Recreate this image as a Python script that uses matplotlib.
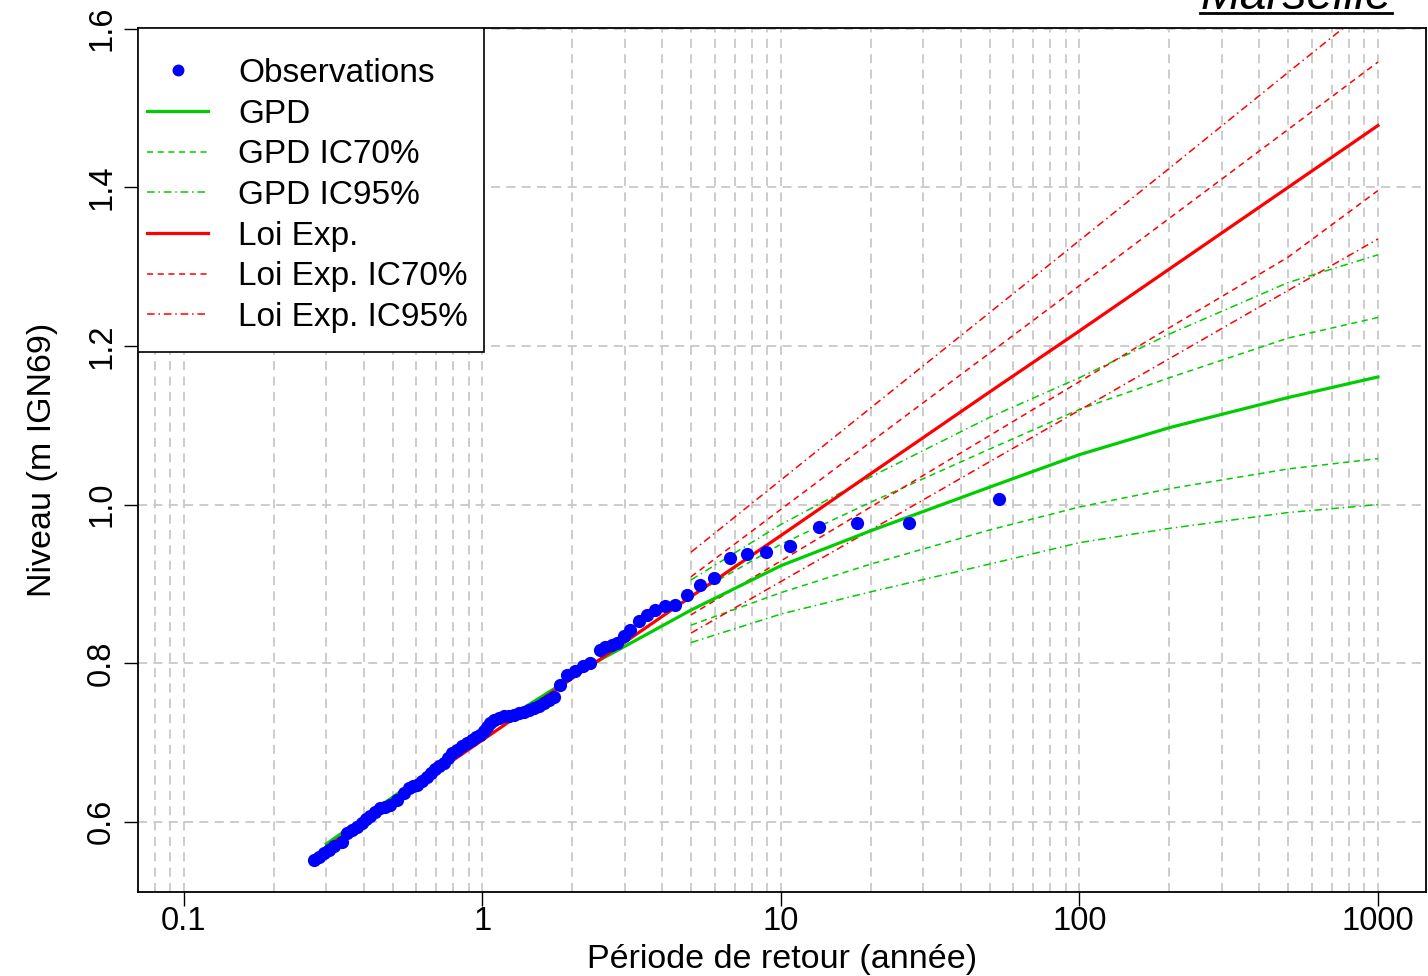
import numpy as np
import matplotlib.pyplot as plt
from matplotlib.patches import Rectangle
from matplotlib.ticker import LogLocator, FixedLocator, NullFormatter

plt.rcParams['font.family'] = ['Liberation Sans', 'DejaVu Sans']

# observed levels vs empirical return period (years)
obs_T = [0.272, 0.283, 0.294, 0.306, 0.318, 0.339, 0.352, 0.366, 0.380, 0.395,
         0.408, 0.421, 0.437, 0.455, 0.473, 0.492, 0.518, 0.545, 0.566, 0.585,
         0.604, 0.628, 0.653, 0.674, 0.696, 0.718, 0.742, 0.766, 0.792, 0.822,
         0.855, 0.889, 0.924, 0.955, 0.985, 1.011, 1.037, 1.063, 1.091, 1.134,
         1.179, 1.225, 1.273, 1.323, 1.375, 1.430, 1.486, 1.545, 1.605, 1.668,
         1.733, 1.825, 1.92, 2.05, 2.18, 2.30, 2.48, 2.58, 2.72, 2.83, 2.97,
         3.13, 3.34, 3.56, 3.80, 4.10, 4.43, 4.85, 5.37, 5.96, 6.74, 7.70,
         8.94, 10.76, 13.39, 18.0, 26.8, 53.7]
obs_lvl = [0.552, 0.556, 0.561, 0.565, 0.569, 0.575, 0.586, 0.590, 0.594, 0.598,
           0.603, 0.607, 0.612, 0.617, 0.619, 0.621, 0.628, 0.636, 0.643, 0.645,
           0.647, 0.652, 0.657, 0.662, 0.666, 0.670, 0.674, 0.680, 0.687, 0.691,
           0.695, 0.699, 0.703, 0.707, 0.710, 0.715, 0.720, 0.725, 0.729, 0.731,
           0.733, 0.734, 0.735, 0.737, 0.739, 0.741, 0.743, 0.746, 0.750, 0.754,
           0.758, 0.773, 0.785, 0.790, 0.796, 0.800, 0.817, 0.821, 0.823, 0.825,
           0.834, 0.842, 0.853, 0.861, 0.867, 0.872, 0.874, 0.886, 0.899, 0.907,
           0.933, 0.938, 0.940, 0.948, 0.972, 0.977, 0.977, 1.007]

# fitted return levels
fit_T = [0.3, 1, 2.5, 5, 10, 20, 50, 100, 200, 500, 1000]
gpd = [0.572, 0.711, 0.805, 0.867, 0.923, 0.967, 1.022, 1.063, 1.097, 1.135, 1.161]
expo = [0.568, 0.703, 0.806, 0.884, 0.961, 1.039, 1.142, 1.219, 1.297, 1.400, 1.478]

# confidence bands, computed from T = 5 years
ic_T = [5, 10, 20, 50, 100, 200, 500, 1000]
gpd70_lo = [0.848, 0.889, 0.925, 0.968, 0.997, 1.020, 1.045, 1.058]
gpd70_hi = [0.885, 0.950, 1.003, 1.070, 1.120, 1.160, 1.210, 1.236]
gpd95_lo = [0.826, 0.862, 0.890, 0.925, 0.952, 0.970, 0.990, 1.000]
gpd95_hi = [0.905, 0.975, 1.035, 1.110, 1.160, 1.215, 1.280, 1.315]
exp70_lo = [0.861, 0.929, 0.997, 1.087, 1.155, 1.223, 1.312, 1.396]
exp70_hi = [0.909, 0.994, 1.079, 1.191, 1.276, 1.361, 1.473, 1.558]
exp95_lo = [0.838, 0.903, 0.968, 1.054, 1.119, 1.184, 1.270, 1.335]
exp95_hi = [0.940, 1.031, 1.122, 1.242, 1.333, 1.424, 1.545, 1.636]

green = '#00CD00'
red = '#FF0000'
dash70 = (0, (4, 3))
dash95 = (0, (5, 2.5, 1, 2.5))

W, H = 1428, 976
fig = plt.figure(figsize=(W / 100, H / 100), dpi=100)
ax = fig.add_axes([138 / W, 84 / H, 1288 / W, 864 / H])

ax.plot(obs_T, obs_lvl, 'o', color='#0000FF', ms=9.5, mew=0, label='Observations', zorder=5)
ax.plot(fit_T, gpd, color=green, lw=2.3, label='GPD', zorder=4)
ax.plot(ic_T, gpd70_lo, color=green, lw=1.1, ls=dash70, label='GPD IC70%')
ax.plot(ic_T, gpd70_hi, color=green, lw=1.1, ls=dash70)
ax.plot(ic_T, gpd95_lo, color=green, lw=1.1, ls=dash95, label='GPD IC95%')
ax.plot(ic_T, gpd95_hi, color=green, lw=1.1, ls=dash95)
ax.plot(fit_T, expo, color=red, lw=2.3, label='Loi Exp.', zorder=4)
ax.plot(ic_T, exp70_lo, color=red, lw=1.1, ls=dash70, label='Loi Exp. IC70%')
ax.plot(ic_T, exp70_hi, color=red, lw=1.1, ls=dash70)
ax.plot(ic_T, exp95_lo, color=red, lw=1.1, ls=dash95, label='Loi Exp. IC95%')
ax.plot(ic_T, exp95_hi, color=red, lw=1.1, ls=dash95)

ax.set_xscale('log')
ax.set_xlim(0.0702, 1449)
ax.set_ylim(0.5115, 1.601)

ax.xaxis.set_major_locator(FixedLocator([0.1, 1, 10, 100, 1000]))
ax.set_xticklabels(['0.1', '1', '10', '100', '1000'])
ax.xaxis.set_minor_locator(LogLocator(base=10, subs=np.arange(2, 10), numticks=20))
ax.xaxis.set_minor_formatter(NullFormatter())
ax.set_yticks([0.6, 0.8, 1.0, 1.2, 1.4, 1.6])
ax.set_yticklabels(['0.6', '0.8', '1.0', '1.2', '1.4', '1.6'], rotation=90, va='center')

ax.tick_params(axis='both', which='major', length=10, width=1, labelsize=23.5,
               color='black', direction='out')
ax.tick_params(axis='x', which='minor', length=0)
ax.tick_params(axis='x', which='major', pad=0)
ax.tick_params(axis='y', which='major', pad=5)

gkw = dict(color='#C8C8C8', lw=1.3, ls=(0, (5, 3.5)))
ax.grid(True, which='major', axis='both', **gkw)
ax.grid(True, which='minor', axis='x', **gkw)
ax.set_axisbelow(True)
for s in ax.spines.values():
    s.set_linewidth(1.3)

ax.set_xlabel('Période de retour (année)', fontsize=24.5, labelpad=5)
ax.set_ylabel('Niveau (m IGN69)', fontsize=24.5, labelpad=20)

# legend box drawn separately, entries placed inside it
ax.add_patch(Rectangle((0, 1 - 324 / 864), 346 / 1288, 324 / 864, transform=ax.transAxes,
                       facecolor='white', edgecolor='black', lw=1.2, zorder=6))
leg = ax.legend(loc='upper left', bbox_to_anchor=(9 / 1288, 1 - 30 / 864),
                fontsize=24, frameon=False, borderaxespad=0, borderpad=0,
                labelspacing=0.29, handlelength=1.83, handletextpad=0.9,
                numpoints=1, markerscale=0.9)
leg.set_zorder(7)

fig.text(1296 / W, 1 - 9 / H, 'Marseille', fontsize=34.5, style='italic',
         ha='center', va='baseline')
fig.add_artist(plt.Line2D([1200 / W, 1392 / W], [1 - 12.5 / H, 1 - 12.5 / H],
                          color='black', lw=2, transform=fig.transFigure))

fig.savefig('out.png', dpi=100)
